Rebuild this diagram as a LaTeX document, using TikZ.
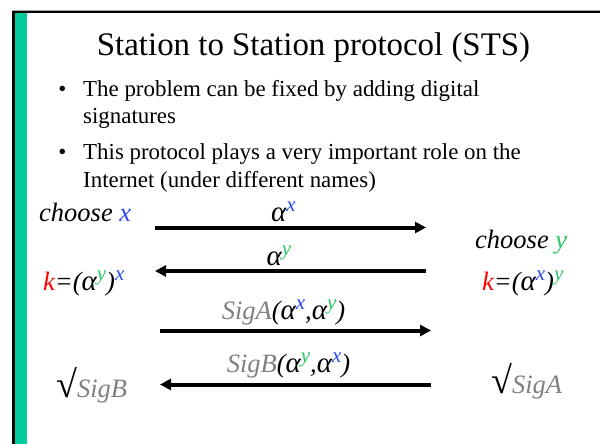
\documentclass[tikz,border=0pt]{standalone}
\usepackage{fontspec}
\setmainfont{Liberation Serif}
\usetikzlibrary{arrows.meta}
\definecolor{bx}{RGB}{40,70,240}
\definecolor{gy}{RGB}{40,200,100}
\definecolor{barg}{RGB}{0,204,153}
\definecolor{sg}{RGB}{128,128,128}
\newcommand{\supc}[2]{\raisebox{10pt}{\fontsize{21}{21}\selectfont\color{#1}#2}}
\newcommand{\alx}{{\fontsize{29}{30}\selectfont α}\supc{bx}{x}}
\newcommand{\aly}{{\fontsize{29}{30}\selectfont α}\supc{gy}{y}}
\newcommand{\chk}{{\fontsize{38}{38}\selectfont\upshape √}}
\begin{document}
\begin{tikzpicture}[x=1pt,y=-1pt,
  title/.style={font=\fontsize{32.9}{36}\selectfont, inner sep=0, anchor=base},
  btext/.style={font=\fontsize{22.9}{26}\selectfont, inner sep=0, anchor=base west},
  lbl/.style={font=\fontsize{26.5}{30}\selectfont\itshape, inner sep=0},
  msg/.style={line width=4pt, -{Triangle[length=11pt,width=11pt]}}]
\useasboundingbox (0,0) rectangle (600,444);
% slide frame
\fill[black!35] (12,9.7) rectangle (600,11);
\fill[black] (12,11) rectangle (600,13.5);
\fill[black] (12,11) rectangle (15,444);
\fill[barg] (15,13.5) rectangle (27,444);
% title
\node[title] (t) at (313.5,56) {Station to Station protocol (STS)};
% bullets
\node[btext, anchor=base] (b1) at (62.5,96) {•};
\node[btext] (l1) at (83,96) {The problem can be fixed by adding digital};
\node[btext] (l2) at (83,124) {signatures};
\node[btext, anchor=base] (b2) at (62.5,159) {•};
\node[btext] (l3) at (83,159) {This protocol plays a very important role on the};
\node[btext] (l4) at (83,187) {Internet (under different names)};
% left/right texts
\node[lbl, anchor=base west] (ca) at (39,221) {choose {\color{bx}x}};
\node[lbl, anchor=base west] (cb) at (475,248) {choose {\color{gy}y}};
\node[lbl, anchor=base west] (ka) at (43,290) {{\color{red}k}=(\aly)\supc{bx}{x}};
\node[lbl, anchor=base west] (kb) at (482,290) {{\color{red}k}=(\alx)\supc{gy}{y}};
\node[lbl, anchor=base west] (va) at (56,397) {\chk{\color{sg}SigB}};
\node[lbl, anchor=base west] (vb) at (491,393) {\chk{\color{sg}SigA}};
% message endpoints
\coordinate (m1s) at (155,227.5);
\coordinate (m1e) at (426,227.5);
\coordinate (m2s) at (426,271);
\coordinate (m2e) at (155,271);
\coordinate (m3s) at (160,330.5);
\coordinate (m3e) at (431,330.5);
\coordinate (m4s) at (431,384.5);
\coordinate (m4e) at (160,384.5);
\draw[msg] (m1s) -- (m1e);
\draw[msg] (m2s) -- (m2e);
\draw[msg] (m3s) -- (m3e);
\draw[msg] (m4s) -- (m4e);
% labels
\node[lbl, anchor=base] (x1) at (283.5,221) {\alx};
\node[lbl, anchor=base] (x2) at (279,265) {\aly};
\node[lbl, anchor=base] (x3) at (283.5,319) {{\color{sg}SigA}(\alx,\aly)};
\node[lbl, anchor=base] (x4) at (288.5,372) {{\color{sg}SigB}(\aly,\alx)};
\end{tikzpicture}
\end{document}
